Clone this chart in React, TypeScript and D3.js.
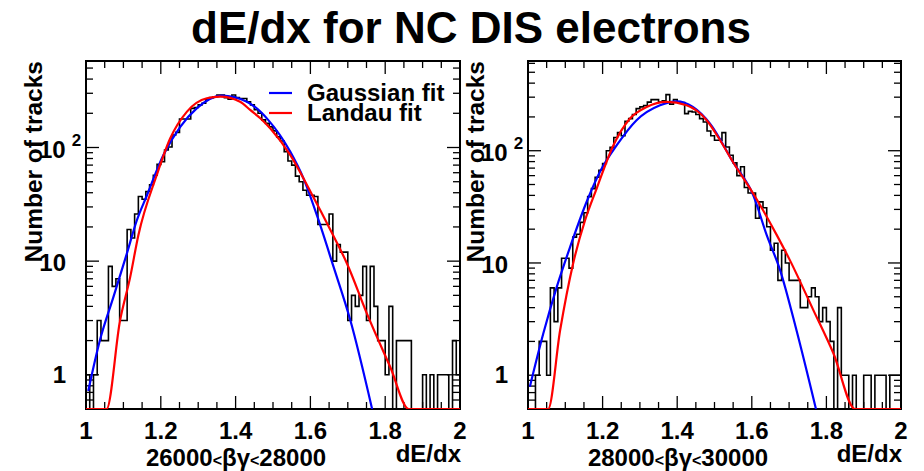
import React from 'react';
import * as d3 from 'd3';

// binning of both histograms
const X_MIN = 1;
const X_MAX = 2;
const N_BINS = 100;
const Y_MIN = 0.5;

const TITLE = 'dE/dx for NC DIS electrons';
const X_TITLE = 'dE/dx';
const Y_TITLE = 'Number of tracks';
const X_TICK_VALUES = [1, 1.2, 1.4, 1.6, 1.8, 2];
const X_TICK_LABELS = ['1', '1.2', '1.4', '1.6', '1.8', '2'];
const LEGEND_LABELS = ['Gaussian fit', 'Landau fit'];
const RANGE_LABELS = ['26000<βγ<28000', '28000<βγ<30000'];

// counts per bin
const leftCounts = [
  1, 0, 1, 3, 2, 2, 9, 6, 7, 3,
  3, 19, 16, 26, 37, 35, 41, 47, 57, 71,
  75, 95, 101, 129, 136, 178, 178, 178, 221, 225,
  237, 245, 266, 275, 280, 290, 290, 275, 266, 290,
  275, 270, 270, 253, 237, 215, 200, 175, 163, 152,
  140, 124, 114, 92, 76, 70, 56, 50, 42, 38,
  38, 37, 21, 21, 21, 26, 10, 14, 12, 12,
  3, 5, 4, 5, 9, 3, 9, 4, 2, 2,
  1, 4, 0, 2, 2, 2, 2, 0, 0, 0,
  1, 0, 1, 0, 1, 1, 1, 0, 2, 1,
];

const rightCounts = [
  0, 0, 1, 2, 2, 1, 6, 3, 6, 11,
  11, 9, 17, 18, 23, 28, 39, 46, 58, 67,
  77, 100, 107, 131, 145, 136, 183, 193, 210, 237,
  246, 253, 271, 285, 285, 271, 278, 316, 260, 285,
  271, 268, 214, 224, 221, 210, 193, 180, 150, 136,
  124, 124, 145, 108, 91, 78, 60, 72, 47, 42,
  42, 25, 35, 31, 21, 13, 15, 7, 13, 10,
  7, 7, 7, 4, 4, 5, 6, 5, 3, 4,
  3, 2, 0, 4, 1, 1, 0, 1, 0, 0,
  1, 1, 0, 1, 1, 1, 0, 1, 1, 1,
];

// fit curves as [dE/dx, tracks]
const leftGauss: [number, number][] = [
  [1.006, 0.72], [1.037, 2.0], [1.073, 4.8], [1.109, 11.6], [1.136, 22.9],
  [1.163, 38], [1.207, 86], [1.252, 152], [1.296, 221], [1.363, 286],
  [1.43, 253], [1.487, 175], [1.546, 92], [1.582, 53], [1.618, 25],
  [1.662, 8.9], [1.707, 3.0], [1.765, 0.5],
];

const leftLandau: [number, number][] = [
  [1.0, 0.5], [1.055, 0.5], [1.091, 3.0], [1.118, 7.2], [1.14, 16.9],
  [1.189, 57], [1.225, 120], [1.27, 207], [1.323, 271], [1.359, 280],
  [1.412, 253], [1.439, 214], [1.466, 181], [1.493, 147], [1.546, 86],
  [1.6, 41], [1.658, 17.6], [1.698, 9.5], [1.752, 3.4], [1.814, 1.16],
  [1.863, 0.5], [2.0, 0.5],
];

const rightGauss: [number, number][] = [
  [1.005, 0.79], [1.041, 2.35], [1.077, 6.1], [1.113, 13.9], [1.157, 34.9],
  [1.193, 65], [1.238, 112], [1.291, 187], [1.354, 254], [1.399, 275],
  [1.442, 245], [1.488, 174], [1.55, 79], [1.604, 40], [1.64, 17.7],
  [1.676, 8.6], [1.72, 2.5], [1.772, 0.5],
];

const rightLandau: [number, number][] = [
  [1.0, 0.5], [1.054, 0.5], [1.086, 2.5], [1.121, 9.9], [1.153, 24],
  [1.184, 46], [1.229, 112], [1.273, 193], [1.318, 245], [1.372, 272],
  [1.425, 254], [1.479, 187], [1.515, 124], [1.55, 79], [1.613, 37],
  [1.667, 17.7], [1.702, 10.6], [1.765, 3.8], [1.819, 1.56], [1.877, 0.5],
  [2.0, 0.5],
];

const FONT = '"Liberation Sans", Arial, Helvetica, sans-serif';

type PanelProps = {
  id: string;
  left: number;
  right: number;
  top: number;
  bottom: number;
  yMax: number;
  counts: number[];
  gauss: [number, number][];
  landau: [number, number][];
  rangeLabel: string;
  legend?: boolean;
};

const Panel = ({ id, left, right, top, bottom, yMax, counts, gauss, landau, rangeLabel, legend }: PanelProps) => {
  const x = d3.scaleLinear().domain([X_MIN, X_MAX]).range([left, right]);
  const y = d3.scaleLog().domain([Y_MIN, yMax]).range([bottom, top]);
  const clampY = (v: number) => y(Math.max(v, Y_MIN));

  const edges = d3.range(N_BINS + 1).map(i => X_MIN + (i * (X_MAX - X_MIN)) / N_BINS);
  const histPts: [number, number][] = [[edges[0], Y_MIN]];
  counts.forEach((c, i) => {
    histPts.push([edges[i], c]);
    histPts.push([edges[i + 1], c]);
  });
  histPts.push([edges[N_BINS], Y_MIN]);
  const histPath = d3.line<[number, number]>()
    .x(d => x(d[0]))
    .y(d => clampY(d[1]))(histPts) || '';

  const fitLine = d3.line<[number, number]>()
    .x(d => x(d[0]))
    .y(d => clampY(d[1]))
    .curve(d3.curveMonotoneX);

  // log axis ticks
  const majorY = [1, 10, 100];
  const minorY: number[] = [];
  [0.1, 1, 10, 100].forEach(dec => {
    for (let k = 2; k <= 9; k++) {
      const v = dec * k;
      if (v >= Y_MIN && v <= yMax && !majorY.includes(v)) minorY.push(v);
    }
  });
  const minorX = d3.range(0, 21).map(i => X_MIN + i * 0.05)
    .filter(v => !X_TICK_VALUES.some(t => Math.abs(t - v) < 1e-6));

  const major = 13;
  const minor = 7;
  const labelStyle = { fontFamily: FONT, fontWeight: 700, fontSize: 24 } as const;
  const parts = rangeLabel.split('<');

  return (
    <g>
      <defs>
        <clipPath id={id}>
          <rect x={left} y={top} width={right - left} height={bottom - top} />
        </clipPath>
      </defs>

      {/* ticks */}
      <g stroke="#000" strokeWidth={1.3}>
        {majorY.map(v => (
          <g key={'my' + v}>
            <line x1={left} x2={left + major} y1={y(v)} y2={y(v)} />
            <line x1={right} x2={right - major} y1={y(v)} y2={y(v)} />
          </g>
        ))}
        {minorY.map(v => (
          <g key={'ny' + v}>
            <line x1={left} x2={left + minor} y1={y(v)} y2={y(v)} />
            <line x1={right} x2={right - minor} y1={y(v)} y2={y(v)} />
          </g>
        ))}
        {X_TICK_VALUES.map(v => (
          <g key={'mx' + v}>
            <line x1={x(v)} x2={x(v)} y1={bottom} y2={bottom - major} />
            <line x1={x(v)} x2={x(v)} y1={top} y2={top + major} />
          </g>
        ))}
        {minorX.map(v => (
          <g key={'nx' + v}>
            <line x1={x(v)} x2={x(v)} y1={bottom} y2={bottom - minor} />
            <line x1={x(v)} x2={x(v)} y1={top} y2={top + minor} />
          </g>
        ))}
      </g>

      <rect x={left} y={top} width={right - left} height={bottom - top}
        fill="none" stroke="#000" strokeWidth={2} />

      <g clipPath={`url(#${id})`} fill="none">
        <path d={histPath} stroke="#000" strokeWidth={1.6} />
        <path d={fitLine(gauss) || ''} stroke="#0000ff" strokeWidth={2.2} />
        <path d={fitLine(landau) || ''} stroke="#ff0000" strokeWidth={2.2} />
      </g>

      {/* y labels */}
      <text x={left - 20} y={y(1) + 8} textAnchor="end" style={labelStyle}>1</text>
      <text x={left - 20} y={y(10) + 10} textAnchor="end" style={labelStyle}>10</text>
      <text x={left - 47} y={y(100) + 10} style={labelStyle}>
        10<tspan dx={6} dy={-12} fontSize={17}>2</tspan>
      </text>
      <text transform={`translate(${left - 44},${top}) rotate(-90)`} textAnchor="end"
        style={{ ...labelStyle, fontSize: 24.5 }}>{Y_TITLE}</text>

      {/* x labels */}
      {X_TICK_VALUES.map((v, i) => (
        <text key={'xl' + v} x={x(v)} y={bottom + 30} textAnchor="middle" style={labelStyle}>
          {X_TICK_LABELS[i]}
        </text>
      ))}
      <text x={right + 1} y={bottom + 53} textAnchor="end" style={labelStyle}>{X_TITLE}</text>
      <text x={left + 150} y={bottom + 57} textAnchor="middle" style={labelStyle}>
        {parts[0]}<tspan fontSize={16}>{'<'}</tspan>{parts[1]}<tspan fontSize={16}>{'<'}</tspan>{parts[2]}
      </text>

      {legend && (
        <g>
          <line x1={269} x2={292} y1={93} y2={93} stroke="#0000ff" strokeWidth={2.2} />
          <line x1={269} x2={292} y1={113} y2={113} stroke="#ff0000" strokeWidth={2.2} />
          <text x={307} y={101} style={labelStyle}>{LEGEND_LABELS[0]}</text>
          <text x={307} y={121} style={labelStyle}>{LEGEND_LABELS[1]}</text>
        </g>
      )}
    </g>
  );
};

export default function App() {
  return (
    <svg width={924} height={471} viewBox="0 0 924 471"
      style={{ position: 'absolute', left: 0, top: 0, background: '#fff' }}>
      <rect width={924} height={471} fill="#fff" />
      <text x={471} y={43} textAnchor="middle"
        style={{ fontFamily: FONT, fontWeight: 700, fontSize: 44 }}>{TITLE}</text>
      <Panel id="clipL" left={86} right={460} top={61} bottom={409} yMax={577}
        counts={leftCounts} gauss={leftGauss} landau={leftLandau}
        rangeLabel={RANGE_LABELS[0]} legend />
      <Panel id="clipR" left={528} right={901} top={61} bottom={409} yMax={630}
        counts={rightCounts} gauss={rightGauss} landau={rightLandau}
        rangeLabel={RANGE_LABELS[1]} />
    </svg>
  );
}
